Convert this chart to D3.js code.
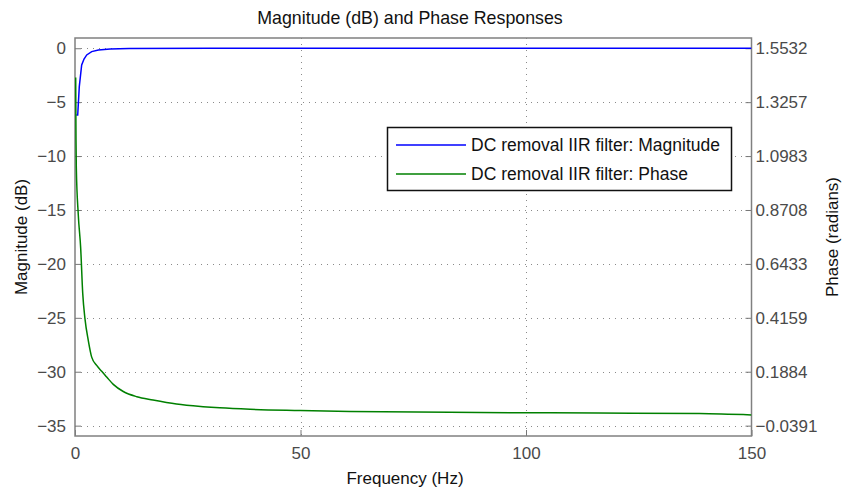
<!DOCTYPE html>
<html>
<head>
<meta charset="utf-8">
<script src="https://cdn.jsdelivr.net/npm/d3@7"></script>
<style>
  body { margin: 0; background: #fff; }
  text { font-family: "Liberation Sans", Arial, sans-serif; }
</style>
</head>
<body>
<script>

// x axis ticks (Hz)
var freqTicks = [0, 50, 100, 150];

// left axis ticks (dB) and matching right axis ticks (radians)
var magTicks = [0, -5, -10, -15, -20, -25, -30, -35];
var phaseTicks = [1.5532, 1.3257, 1.0983, 0.8708, 0.6433, 0.4159, 0.1884, -0.0391];

// magnitude response
var magFreq = [0.3, 0.6, 0.95, 1.48, 2.0, 2.6, 3.7, 5.2, 7.8, 12, 30, 150];
var magDb   = [-6.2, -6.2, -3.56, -1.55, -1.0, -0.62, -0.31, -0.16, -0.06, -0.02, 0, 0];

// phase response
var phaseFreq = [0.15, 0.22, 0.29, 0.73, 1.26, 1.71, 2.22, 2.95, 3.70, 4.81, 5.92, 7.03, 8.49,
                 10.7, 13.7, 17.3, 22.5, 28.4, 32.1, 38.8, 49.9, 61, 83, 116, 138.5, 150];
var phaseRad  = [1.43, 1.17, 1.05, 0.85, 0.71, 0.52, 0.41, 0.32, 0.25, 0.215, 0.19, 0.166, 0.135,
                 0.105, 0.083, 0.069, 0.052, 0.041, 0.036, 0.030, 0.025, 0.021, 0.017, 0.014, 0.012, 0.006];

var legendNames = ["DC removal IIR filter: Magnitude", "DC removal IIR filter: Phase"];
var colors = ["#0000ff", "#008000"];

var width = 843, height = 490;
var plotLeft = 75, plotRight = 751.5, plotTop = 38, plotBottom = 436;

var svg = d3.select("body")
            .append("svg")
            .attr("width", width)
            .attr("height", height);

// scales
var x = d3.scaleLinear().domain([0, 150]).range([plotLeft, plotRight]);
var yMag = d3.scaleLinear().domain([-35.96, 0.95]).range([plotBottom, plotTop]);

// phase axis lines up with the magnitude ticks
var step = (phaseTicks[0] - phaseTicks[7]) / 35;
var yPhase = d3.scaleLinear()
               .domain([phaseTicks[0] + step * -35.96, phaseTicks[0] + step * 0.95])
               .range([plotBottom, plotTop]);

// dotted grid
var grid = svg.append("g")
              .attr("stroke", "#8a8a8a")
              .attr("stroke-width", 1)
              .attr("stroke-dasharray", "1,5");

grid.selectAll("line.v")
    .data(freqTicks.slice(1, 3))
    .enter()
    .append("line")
    .attr("class", "v")
    .attr("x1", function(d) { return Math.round(x(d)) + 0.5; })
    .attr("x2", function(d) { return Math.round(x(d)) + 0.5; })
    .attr("y1", plotTop)
    .attr("y2", plotBottom);

grid.selectAll("line.h")
    .data(magTicks)
    .enter()
    .append("line")
    .attr("class", "h")
    .attr("x1", plotLeft)
    .attr("x2", plotRight)
    .attr("y1", function(d) { return Math.round(yMag(d)) + 0.5; })
    .attr("y2", function(d) { return Math.round(yMag(d)) + 0.5; });

// axes with inward ticks
var tickColor = "#4a4a4a";

var xAxis = svg.append("g")
               .attr("transform", "translate(0," + plotBottom + ")")
               .call(d3.axisBottom(x).tickValues(freqTicks).tickSizeInner(-6).tickSizeOuter(0).tickPadding(11));

var leftAxis = svg.append("g")
                  .attr("transform", "translate(" + plotLeft + ",0)")
                  .call(d3.axisLeft(yMag).tickValues(magTicks).tickSizeInner(-6).tickSizeOuter(0).tickPadding(9));

var rightAxis = svg.append("g")
                   .attr("transform", "translate(" + plotRight + ",0)")
                   .call(d3.axisRight(yPhase).tickValues(phaseTicks).tickFormat(d3.format(".4f"))
                           .tickSizeInner(-6).tickSizeOuter(0).tickPadding(4));

[xAxis, leftAxis, rightAxis].forEach(function(a) {
  a.select(".domain").remove();
  a.selectAll("line").attr("stroke", "#777");
  a.selectAll("text")
   .attr("fill", tickColor)
   .style("font-size", "17px")
   .style("font-family", "Liberation Sans, Arial, sans-serif");
});

// box around the plot
svg.append("rect")
   .attr("x", plotLeft)
   .attr("y", plotTop)
   .attr("width", plotRight - plotLeft)
   .attr("height", plotBottom - plotTop)
   .attr("fill", "none")
   .attr("stroke", "#808080")
   .attr("stroke-width", 1.5);

// clip for the curves
svg.append("clipPath")
   .attr("id", "plotclip")
   .append("rect")
   .attr("x", plotLeft)
   .attr("y", plotTop)
   .attr("width", plotRight - plotLeft)
   .attr("height", plotBottom - plotTop);

var plot = svg.append("g").attr("clip-path", "url(#plotclip)");

var magLine = d3.line()
                .x(function(d, i) { return x(magFreq[i]); })
                .y(function(d) { return yMag(d); });

var phaseLine = d3.line()
                  .x(function(d, i) { return x(phaseFreq[i]); })
                  .y(function(d) { return yPhase(d); })
                  .curve(d3.curveMonotoneX);

plot.append("path")
    .attr("d", magLine(magDb))
    .attr("fill", "none")
    .attr("stroke", colors[0])
    .attr("stroke-width", 1.5);

plot.append("path")
    .attr("d", phaseLine(phaseRad))
    .attr("fill", "none")
    .attr("stroke", colors[1])
    .attr("stroke-width", 1.5);

// title and axis labels
svg.append("text")
   .attr("x", 410)
   .attr("y", 24)
   .attr("text-anchor", "middle")
   .style("font-size", "17.8px")
   .attr("fill", "#111")
   .text("Magnitude (dB) and Phase Responses");

svg.append("text")
   .attr("x", 405)
   .attr("y", 484)
   .attr("text-anchor", "middle")
   .style("font-size", "17px")
   .attr("fill", "#111")
   .text("Frequency (Hz)");

svg.append("text")
   .attr("transform", "translate(27,237)rotate(-90)")
   .attr("text-anchor", "middle")
   .style("font-size", "17px")
   .attr("fill", "#111")
   .text("Magnitude (dB)");

svg.append("text")
   .attr("transform", "translate(838,237)rotate(-90)")
   .attr("text-anchor", "middle")
   .style("font-size", "17px")
   .attr("fill", "#111")
   .text("Phase (radians)");

// legend
var legend = svg.append("g");

legend.append("rect")
      .attr("x", 387.5)
      .attr("y", 127.5)
      .attr("width", 344)
      .attr("height", 63)
      .attr("fill", "#fff")
      .attr("stroke", "#111")
      .attr("stroke-width", 1.5);

legendNames.forEach(function(name, i) {
  var ly = 145 + i * 29;
  legend.append("line")
        .attr("x1", 396)
        .attr("x2", 466)
        .attr("y1", ly)
        .attr("y2", ly)
        .attr("stroke", colors[i])
        .attr("stroke-width", 1.5);
  legend.append("text")
        .attr("x", 471)
        .attr("y", ly)
        .attr("dy", "0.35em")
        .style("font-size", "17.5px")
        .attr("fill", "#111")
        .text(name);
});

</script>
</body>
</html>
